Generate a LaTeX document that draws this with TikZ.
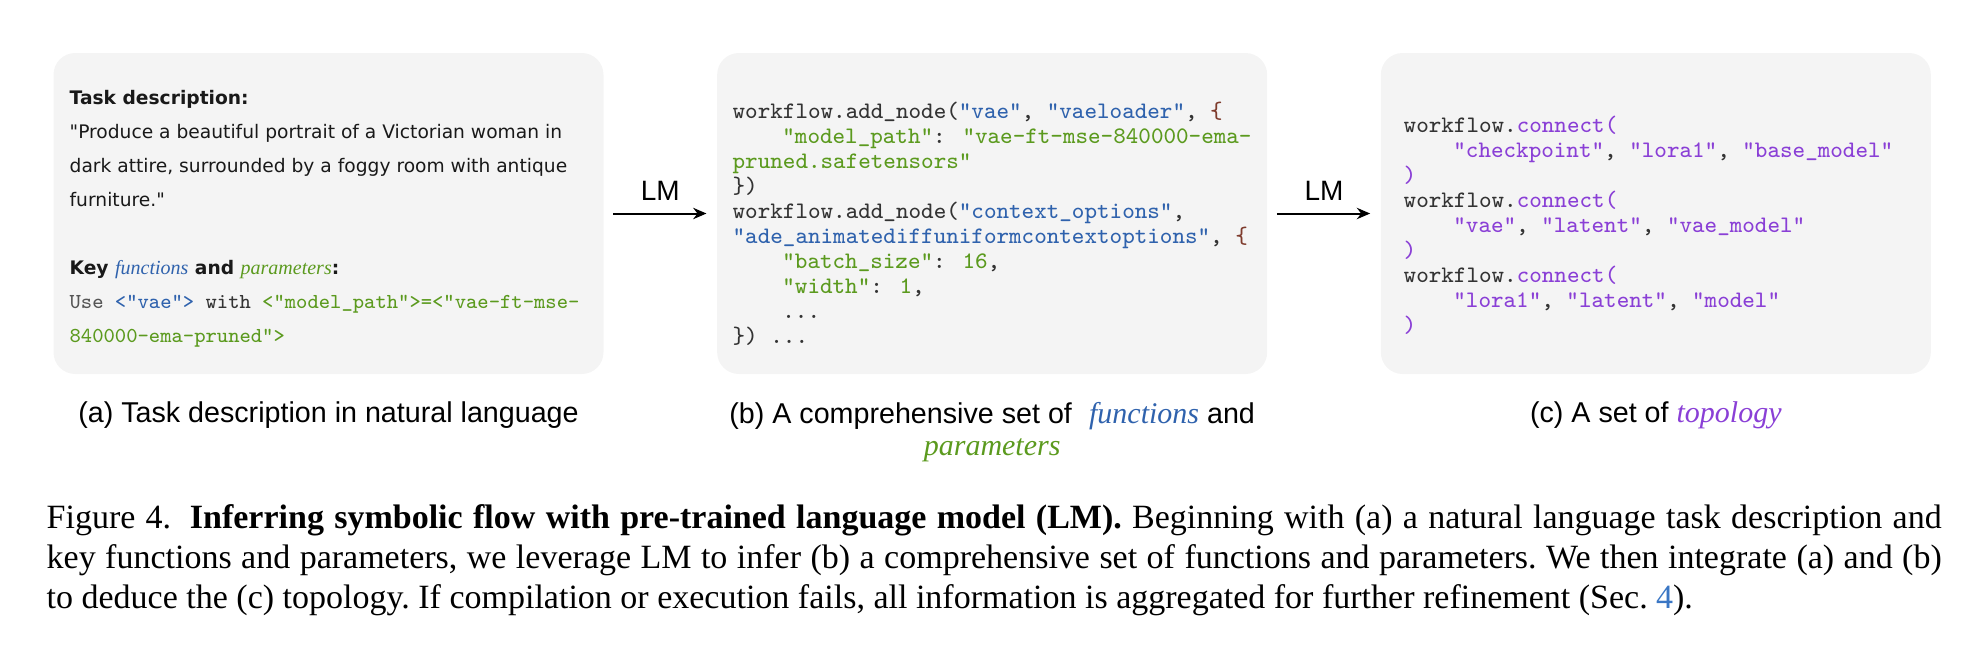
\documentclass[tikz,border=0pt]{standalone}
\usepackage{fontspec}
\setmainfont{Liberation Serif}
\setsansfont{Liberation Sans}
\newfontfamily\descfont{DejaVu Sans}
\usetikzlibrary{arrows.meta,positioning}

\definecolor{panelgray}{HTML}{F4F4F4}
\definecolor{fnblue}{HTML}{2F62AD}
\definecolor{prmgreen}{HTML}{5B9A1E}
\definecolor{topopurple}{HTML}{8A3FD6}
\definecolor{codedark}{HTML}{333333}
\definecolor{codegray}{HTML}{555555}
\definecolor{bracered}{HTML}{7E3B2C}
\definecolor{linkblue}{HTML}{3A76C4}

\newcommand{\fn}[1]{\textcolor{fnblue}{#1}}
\newcommand{\prm}[1]{\textcolor{prmgreen}{#1}}
\newcommand{\topo}[1]{\textcolor{topopurple}{#1}}
\newcommand{\codeindent}{\hspace*{2.1em}}
\newcommand{\capit}[2]{{\rmfamily\itshape\fontsize{9}{9.8}\selectfont\textcolor{#1}{#2}}}

\tikzset{
  panel/.style={fill=panelgray, rounded corners=6.5pt, minimum width=165pt, minimum height=96.3pt, inner sep=0pt},
  desctext/.style={anchor=north west, inner sep=0pt, align=left, text=black!90, font=\descfont\fontsize{5.6}{10.2}\selectfont},
  codetext/.style={anchor=north west, inner sep=0pt, align=left, text=codedark, font=\ttfamily\fontsize{7.1}{7.5}\selectfont},
  sublabel/.style={inner sep=0pt, align=center, font=\sffamily\fontsize{8.6}{9.8}\selectfont},
  lmlabel/.style={above=3.6pt, inner sep=0pt, font=\sffamily\fontsize{8.4}{10}\selectfont},
  flow/.style={-{Stealth[length=4pt,width=3.4pt]}, line width=0.6pt, shorten <=2.7pt, shorten >=3pt},
  figcaption/.style={anchor=north west, inner sep=0pt, text width=568.5pt, align=justify, font=\rmfamily\fontsize{10.2}{12}\selectfont\frenchspacing},
}

\begin{document}
\begin{tikzpicture}[x=0.3pt, y=-0.3pt]
\useasboundingbox (0,0) rectangle (1966,644);

% three panels
\node[panel] (taskpanel) at (328.5,213.5) {};
\node[panel, right=33.7pt of taskpanel] (funcpanel) {};
\node[panel, right=33.7pt of funcpanel] (topopanel) {};

% (a) task description
\node[desctext] (tasktext) at (69,90) {\textbf{Task description:}\\
"Produce a beautiful portrait of a Victorian woman in\\
dark attire, surrounded by a foggy room with antique\\
furniture."\\
\mbox{}\\
\textbf{Key {\rmfamily\itshape\mdseries\fontsize{6}{10.2}\selectfont\fn{functions}} and {\rmfamily\itshape\mdseries\fontsize{6}{10.2}\selectfont\prm{parameters}}:}\\
{\ttfamily\fontsize{6.4}{10.2}\selectfont\textcolor{codegray}{Use} \fn{<"vae">} \textcolor{codedark}{with} \prm{<"model\_path">=<"vae-ft-mse-}}\\
{\ttfamily\fontsize{6.4}{10.2}\selectfont\prm{840000-ema-pruned">}}};

% (b) functions and parameters
\node[codetext] (functext) at (732,101) {workflow.add\_node(\fn{"vae"}, \fn{"vaeloader"}, \textcolor{bracered}{\{}\\
\codeindent\prm{"model\_path"}: \prm{"vae-ft-mse-840000-ema-}\\
\prm{pruned.safetensors"}\\
\})\\
workflow.add\_node(\fn{"context\_options"},\\
\fn{"ade\_animatediffuniformcontextoptions"}, \textcolor{bracered}{\{}\\
\codeindent\prm{"batch\_size"}: \prm{16},\\
\codeindent\prm{"width"}: \prm{1},\\
\codeindent...\\
\}) ...};

% (c) topology
\node[codetext] (topotext) at (1403,115) {workflow.\topo{connect(}\\
\codeindent\topo{"checkpoint"}, \topo{"lora1"}, \topo{"base\_model"}\\
\topo{)}\\
workflow.\topo{connect(}\\
\codeindent\topo{"vae"}, \topo{"latent"}, \topo{"vae\_model"}\\
\topo{)}\\
workflow.\topo{connect(}\\
\codeindent\topo{"lora1"}, \topo{"latent"}, \topo{"model"}\\
\topo{)}};

% LM arrows
\draw[flow] (taskpanel) -- node[lmlabel] (lmone) {LM} (funcpanel);
\draw[flow] (funcpanel) -- node[lmlabel] (lmtwo) {LM} (topopanel);

% sub captions
\node[sublabel, below=8pt of taskpanel] (taskcap) {(a) Task description in natural language};
\node[sublabel, below=8pt of funcpanel] (funccap) {(b) A comprehensive set of\hspace{0.6em}\capit{fnblue}{functions} and\\\capit{prmgreen}{parameters}};
\node[sublabel, below=8pt of topopanel] (topocap) {(c) A set of \capit{topopurple}{topology}};

% figure caption
\node[figcaption] (figcap) at (46,504) {Figure 4.\hspace{0.55em}\textbf{Inferring symbolic flow with pre-trained language model (LM).} Beginning with (a) a natural language task description and\linebreak
key functions and parameters, we leverage LM to infer (b) a comprehensive set of functions and parameters. We then integrate (a) and (b)\linebreak
to deduce the (c) topology. If compilation or execution fails, all information is aggregated for further refinement (Sec.~\textcolor{linkblue}{4}).};
\end{tikzpicture}
\end{document}
